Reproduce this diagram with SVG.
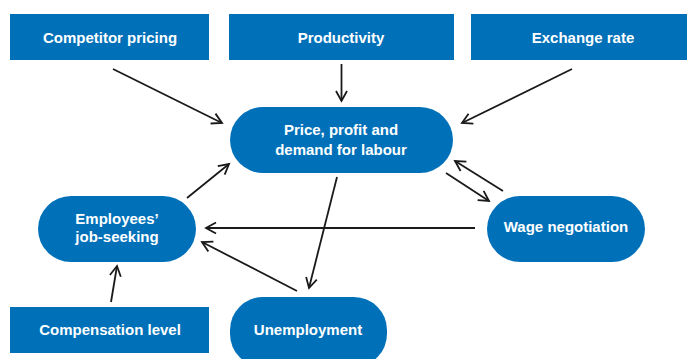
<svg xmlns="http://www.w3.org/2000/svg" width="687" height="359" viewBox="0 0 687 359">
<defs>
<marker id="arr" markerUnits="userSpaceOnUse" markerWidth="14" markerHeight="14" refX="11" refY="6" orient="auto" overflow="visible">
<path d="M1,0.5 L11,6 L1,11.5" fill="none" stroke="#1a1a1a" stroke-width="1.8"/>
</marker>
</defs>
<style>
.n{fill:#0071b9;}
.t{font-family:"Liberation Sans",Arial,sans-serif;font-weight:bold;font-size:15px;fill:#ffffff;text-anchor:middle;}
.c{stroke:#1a1a1a;stroke-width:1.8;fill:none;marker-end:url(#arr);}
</style>
<rect width="687" height="359" fill="#ffffff"/>
<g id="competitor"><rect class="n" x="10" y="14" width="199" height="46"/><text class="t" x="110" y="43">Competitor pricing</text></g>
<g id="productivity"><rect class="n" x="229" y="14" width="225" height="46"/><text class="t" x="341" y="43">Productivity</text></g>
<g id="exchange"><rect class="n" x="471" y="14" width="220" height="46"/><text class="t" x="583" y="43">Exchange rate</text></g>
<g id="price"><rect class="n" x="230" y="107" width="223" height="66" rx="33"/><text class="t" x="341" y="135">Price, profit and</text><text class="t" x="341" y="155">demand for labour</text></g>
<g id="employees"><rect class="n" x="38" y="196" width="158" height="66" rx="33"/><text class="t" x="117" y="224">Employees’</text><text class="t" x="117" y="242">job-seeking</text></g>
<g id="wage"><rect class="n" x="487" y="196" width="158" height="66" rx="33"/><text class="t" x="566" y="232">Wage negotiation</text></g>
<g id="compensation"><rect class="n" x="10" y="307" width="199" height="46"/><text class="t" x="110" y="335">Compensation level</text></g>
<g id="unemployment"><rect class="n" x="230" y="297" width="157" height="70" rx="33"/><text class="t" x="308" y="335">Unemployment</text></g>
<g id="connectors">
<line class="c" x1="113" y1="69" x2="222" y2="123"/>
<line class="c" x1="341.5" y1="64" x2="341.5" y2="101"/>
<line class="c" x1="572" y1="69" x2="462" y2="123"/>
<line class="c" x1="446" y1="173" x2="489" y2="201"/>
<line class="c" x1="503" y1="191" x2="455" y2="161"/>
<line class="c" x1="475" y1="228" x2="206" y2="228"/>
<line class="c" x1="187" y1="198" x2="229" y2="164"/>
<line class="c" x1="337" y1="177" x2="309" y2="288"/>
<line class="c" x1="297" y1="291" x2="202" y2="242"/>
<line class="c" x1="111" y1="302" x2="117" y2="266"/>
</g>
</svg>
